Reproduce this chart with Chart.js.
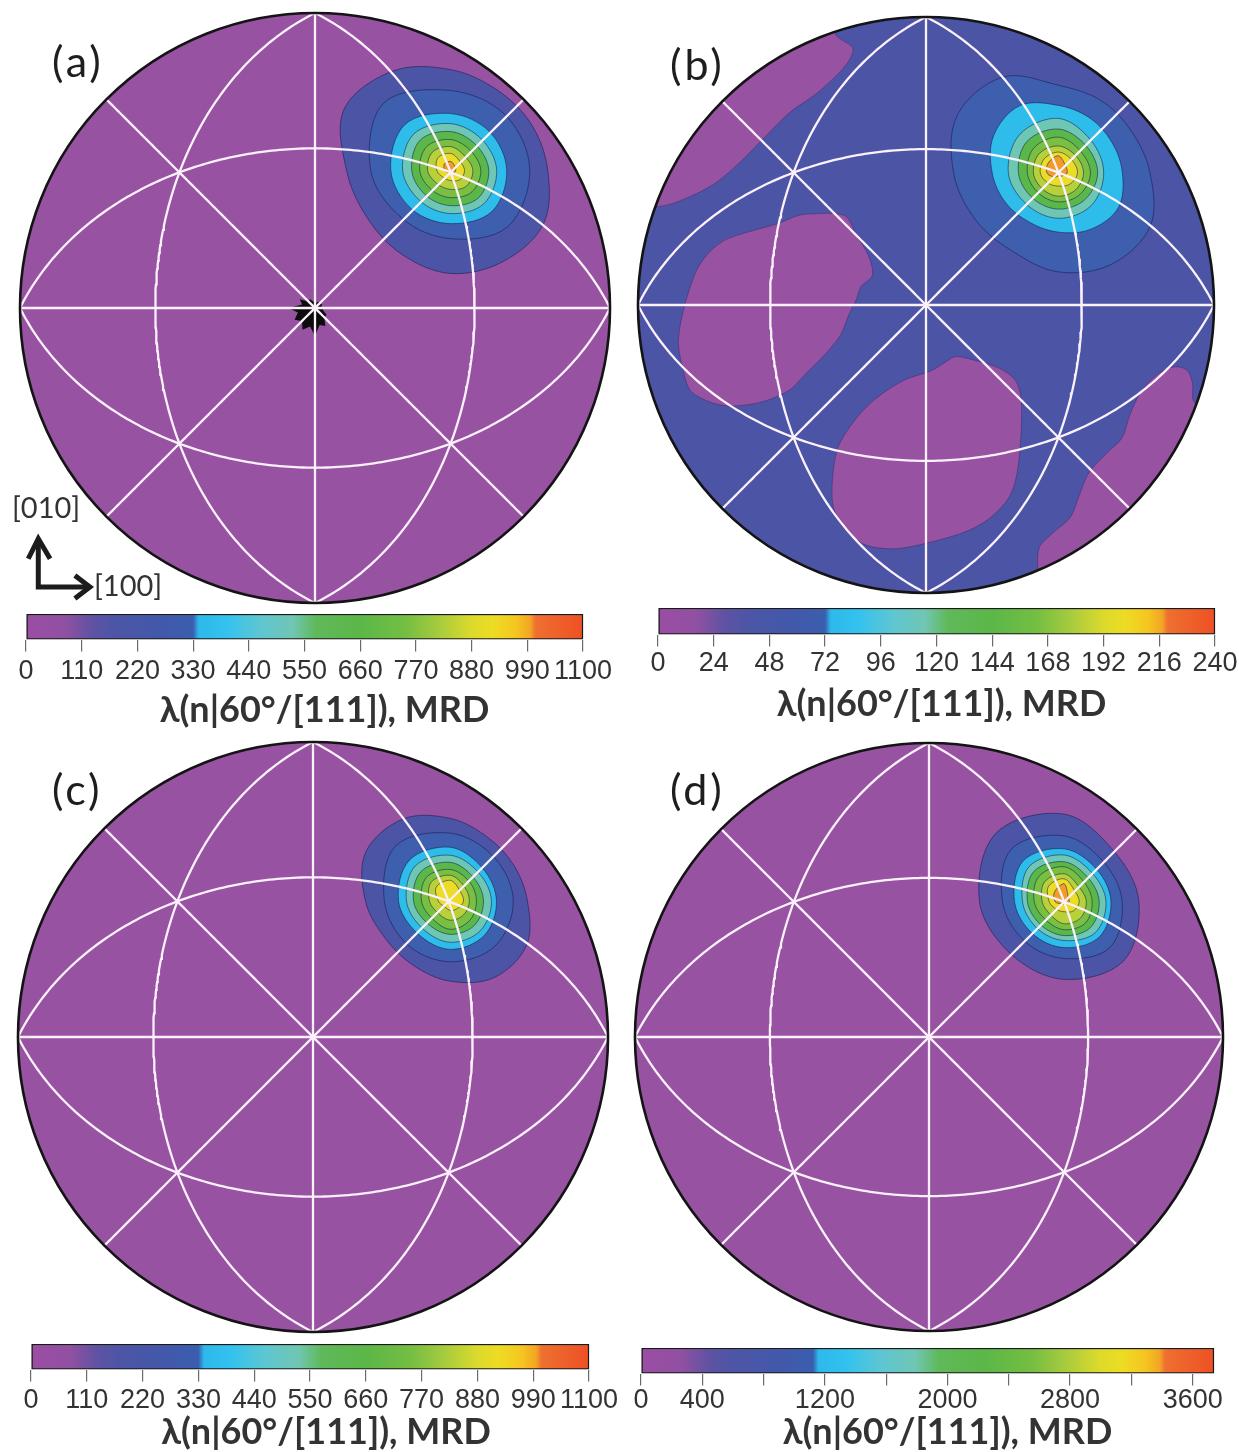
<!DOCTYPE html>
<html>
<head>
<meta charset="utf-8">
<title>λ(n|60°/[111]) distributions</title>
<script src="https://cdn.jsdelivr.net/npm/chart.js@4.4.1/dist/chart.umd.min.js"></script>
<style>
 html,body{margin:0;padding:0;background:#ffffff;}
 body{position:relative;width:1239px;height:1452px;overflow:hidden;}
 canvas{position:absolute;display:block;}
 .txt{position:absolute;white-space:nowrap;line-height:1;font-family:Lato,'Open Sans',sans-serif;z-index:5;}
 .panel{font-size:43px;color:#1e1e1e;letter-spacing:3px;}
 .dir{font-size:29px;color:#333;}
</style>
</head>
<body>
<div class="txt panel" style="left:52px;top:39px">(a)</div>
<div class="txt panel" style="left:670px;top:42px">(b)</div>
<div class="txt panel" style="left:52px;top:767px">(c)</div>
<div class="txt panel" style="left:670px;top:767px">(d)</div>
<div class="txt dir" style="left:12px;top:492px">[010]</div>
<div class="txt dir" style="left:94px;top:570px">[100]</div>
<script>
// ===================== DATA =====================
// colour of each contour band (0 = lowest band)
const LEVEL_COLORS = ['#9752a2','#4b54a5','#3e5eae','#2ebdea','#6ec6b4','#5ab84a','#79bf41','#b8d13a','#ecdc27','#f39b2a'];
// colour bar gradient
const COLORBAR_STOPS  = [0, 0.07, 0.12, 0.16, 0.25, 0.30, 0.31, 0.36, 0.42, 0.48, 0.52, 0.60, 0.68, 0.74, 0.80, 0.84, 0.88, 0.905, 0.915, 1];
const COLORBAR_COLORS = ['#9b4ea3','#9150a2','#5e52a3','#4d55a6','#4159ab','#3a5eaf','#2db9ec','#33c2ee','#5ec6d2','#70c6b2','#5fb95a','#5bb748','#74be42','#a6cb3e','#dcda2c','#eddc23','#f5c520','#f2a624','#ee7030','#ee5024'];
const COLORBAR_TITLE = 'λ(n|60°/[111]), MRD';
// zone (great-circle) normals drawn on the projection
const GREAT_CIRCLE_NORMALS = [[1,0,0],[0,1,0],[1,1,0],[1,-1,0],[1,0,1],[-1,0,1],[0,1,1],[0,-1,1]];

// ---- panel (a)
const A_SCALE_MAX = 1100, A_TICK_STEP = 110;
const A_TICK_LABELS = ['0','110','220','330','440','550','660','770','880','990','1100'];
const A_BACKGROUND_BAND = 0;
const A_PEAK = [0.460, 0.466];
const A_CONTOUR_BANDS = [1,2,3,4,5,6,7,8,9];
const A_CONTOUR_RADII = [
  [0.329,0.315,0.315,0.342,0.390,0.417,0.353,0.325,0.329,0.349,0.356,0.363],
  [0.268,0.264,0.271,0.322,0.271,0.231,0.231,0.271],
  [0.190,0.186,0.193,0.220,0.203,0.186,0.180,0.197],
  [0.156,0.149,0.159,0.176,0.163,0.146,0.146,0.159],
  [0.129,0.122,0.132,0.146,0.132,0.119,0.119,0.132],
  [0.102,0.095,0.105,0.115,0.105,0.092,0.092,0.102],
  [0.075,0.068,0.081,0.088,0.078,0.064,0.064,0.075],
  [0.047,0.044,0.058,0.061,0.047,0.034,0.034,0.044],
  [0.017,0.020,0.031,0.031,0.020,0.010,0.010,0.014]
];
const A_CENTER_SPOT_RADII = [0.030,0.022,0.028,0.020,0.024,0.018,0.026,0.022,0.035,0.030,0.060,0.045,0.090,0.060,0.080,0.062,0.085,0.065,0.095,0.060,0.070,0.045,0.045,0.028];
const A_ARROW_SHAFT = [[-0.938,-0.790],[-0.938,-0.946],[-0.775,-0.946]];
const A_ARROW_HEAD_UP = [[-0.972,-0.850],[-0.938,-0.782],[-0.898,-0.850]];
const A_ARROW_HEAD_RIGHT = [[-0.814,-0.907],[-0.763,-0.946],[-0.814,-0.985]];

// ---- panel (b)
const B_SCALE_MAX = 240, B_TICK_STEP = 24;
const B_TICK_LABELS = ['0','24','48','72','96','120','144','168','192','216','240'];
const B_BACKGROUND_BAND = 1;
const B_LOW_BAND = 0;
const B_BLOB_UPPER_LEFT = [[-0.316,0.945],[-0.255,0.894],[-0.261,0.860],[-0.296,0.812],[-0.378,0.736],[-0.475,0.667],[-0.571,0.571],[-0.654,0.488],[-0.736,0.420],[-0.832,0.371],[-0.915,0.344],[-1.2,0.33],[-1.2,1.2],[-0.3,1.2]];
const B_BLOB_LEFT = [[-0.447,0.310],[-0.406,0.316],[-0.282,0.310],[-0.241,0.241],[-0.200,0.172],[-0.186,0.103],[-0.227,0.062],[-0.241,0.021],[-0.268,-0.034],[-0.296,-0.103],[-0.351,-0.172],[-0.420,-0.241],[-0.475,-0.296],[-0.571,-0.337],[-0.681,-0.351],[-0.750,-0.337],[-0.819,-0.296],[-0.846,-0.213],[-0.860,-0.131],[-0.846,-0.034],[-0.819,0.062],[-0.791,0.131],[-0.750,0.186],[-0.695,0.227],[-0.612,0.255],[-0.516,0.282]];
const B_BLOB_BOTTOM = [[0.103,-0.179],[0.172,-0.193],[0.255,-0.220],[0.310,-0.261],[0.330,-0.323],[0.330,-0.447],[0.316,-0.585],[0.289,-0.667],[0.227,-0.736],[0.145,-0.784],[0.034,-0.819],[-0.103,-0.846],[-0.213,-0.832],[-0.289,-0.770],[-0.323,-0.695],[-0.323,-0.585],[-0.303,-0.488],[-0.241,-0.392],[-0.172,-0.323],[-0.076,-0.261],[0.021,-0.227],[0.076,-0.193]];
const B_BLOB_LOWER_RIGHT = [[0.860,-0.215],[0.805,-0.240],[0.750,-0.296],[0.709,-0.378],[0.681,-0.461],[0.626,-0.516],[0.564,-0.585],[0.530,-0.667],[0.502,-0.736],[0.433,-0.798],[0.392,-0.846],[0.390,-0.950],[0.4,-1.2],[1.2,-1.2],[1.2,-0.4],[0.935,-0.340],[0.925,-0.270],[0.905,-0.225]];
const B_PEAK = [0.460, 0.458];
const B_CONTOUR_BANDS = [2,3,4,5,6,7,8,9];
const B_CONTOUR_RADII = [
  [0.318,0.292,0.292,0.305,0.385,0.405,0.364,0.330,0.315,0.343,0.366,0.368],
  [0.222,0.214,0.220,0.235,0.270,0.260,0.230,0.210,0.198,0.205,0.225,0.240],
  [0.157,0.160,0.190,0.190,0.174,0.155,0.157,0.160],
  [0.136,0.135,0.153,0.155,0.139,0.125,0.125,0.130],
  [0.111,0.108,0.125,0.122,0.108,0.098,0.100,0.105],
  [0.087,0.085,0.094,0.095,0.087,0.078,0.080,0.083],
  [0.066,0.065,0.073,0.070,0.063,0.050,0.045,0.055],
  [0.030,0.035,0.060,0.050,0.040,0.020,0.010,0.015]
];

// ---- panel (c)
const C_SCALE_MAX = 1100, C_TICK_STEP = 110;
const C_TICK_LABELS = ['0','110','220','330','440','550','660','770','880','990','1100'];
const C_BACKGROUND_BAND = 0;
const C_PEAK = [0.466, 0.460];
const C_CONTOUR_BANDS = [1,2,3,4,5,6,7,8];
const C_CONTOUR_RADII = [
  [0.261,0.247,0.251,0.281,0.322,0.332,0.288,0.254,0.251,0.271,0.298,0.298],
  [0.213,0.210,0.231,0.264,0.224,0.207,0.205,0.214],
  [0.156,0.156,0.183,0.197,0.176,0.156,0.163,0.163],
  [0.139,0.136,0.156,0.169,0.149,0.132,0.139,0.142],
  [0.112,0.112,0.132,0.142,0.125,0.108,0.112,0.115],
  [0.088,0.092,0.108,0.115,0.098,0.085,0.095,0.092],
  [0.064,0.068,0.088,0.092,0.071,0.058,0.064,0.064],
  [0.044,0.047,0.071,0.068,0.041,0.027,0.031,0.034]
];

// ---- panel (d)
const D_SCALE_MAX = 3600, D_TICK_STEP = 400;
const D_TICK_LABELS = ['0','400','','1200','','2000','','2800','','3600'];
const D_BACKGROUND_BAND = 0;
const D_PEAK = [0.460, 0.460];
const D_CONTOUR_BANDS = [1,2,3,4,5,6,7,8,9];
const D_CONTOUR_RADII = [
  [0.254,0.241,0.298,0.329,0.288,0.254,0.264,0.285],
  [0.197,0.190,0.224,0.254,0.210,0.190,0.193,0.220],
  [0.159,0.156,0.180,0.197,0.169,0.153,0.156,0.169],
  [0.142,0.136,0.159,0.169,0.142,0.129,0.132,0.149],
  [0.119,0.115,0.136,0.146,0.125,0.112,0.115,0.125],
  [0.095,0.095,0.119,0.122,0.102,0.088,0.095,0.102],
  [0.075,0.071,0.095,0.095,0.075,0.064,0.075,0.078],
  [0.051,0.051,0.078,0.075,0.051,0.037,0.034,0.044],
  [0.017,0.020,0.061,0.047,0.031,0.010,0.007,0.010]
];

// ===================== LAYOUT (page pixels) =====================
const PAD = 6;
const PANEL_LAYOUT = {
  a: {cx: 315,   cy: 307.5,  R: 295},
  b: {cx: 926,   cy: 305,    R: 288},
  c: {cx: 313.4, cy: 1036.5, R: 295},
  d: {cx: 929,   cy: 1037,   R: 294}
};
// bar box, centre line of tick labels, centre line of title, title shift to the right
const BAR_LAYOUT = {
  a: {left: 25.7,  right: 583,  top: 614,  bottom: 639,  labelY: 671,  titleY: 709.5,  shift: 20},
  b: {left: 657.5, right: 1214, top: 608,  bottom: 634,  labelY: 663,  titleY: 703.5,  shift: 5},
  c: {left: 30.8,  right: 589,  top: 1344, bottom: 1369, labelY: 1400, titleY: 1431.5, shift: 16},
  d: {left: 640.5, right: 1213, top: 1348, bottom: 1373, labelY: 1400, titleY: 1431.5, shift: 20}
};

// ===================== HELPERS =====================
function pt(p) { return {x: p[0], y: p[1]}; }
function ring(center, radii) {
  const n = radii.length;
  return radii.map((r, i) => ({x: center[0] + r * Math.cos(2 * Math.PI * i / n),
                               y: center[1] + r * Math.sin(2 * Math.PI * i / n)}));
}
// equal-area projection of the upper half of a great circle
function greatCircle(n) {
  const L = Math.hypot(n[0], n[1], n[2]);
  const N = n.map(v => v / L);
  let a = [N[1], -N[0], 0];
  const la = Math.hypot(a[0], a[1]);
  a = a.map(v => v / la);
  let b = [N[1]*a[2] - N[2]*a[1], N[2]*a[0] - N[0]*a[2], N[0]*a[1] - N[1]*a[0]];
  if (b[2] < 0) b = b.map(v => -v);
  const out = [], S = 180;
  for (let i = 0; i <= S; i++) {
    const t = Math.PI * i / S, c = Math.cos(t), s = Math.sin(t);
    const p = [a[0]*c + b[0]*s, a[1]*c + b[1]*s, Math.max(0, a[2]*c + b[2]*s)];
    const k = 1 / Math.sqrt(1 + p[2]);
    out.push({x: p[0] * k, y: p[1] * k});
  }
  return out;
}
function unitRadiusPx(chart) {
  const sx = chart.scales.x;
  return sx.getPixelForValue(1) - sx.getPixelForValue(0);
}

// close smooth contour lines into loops
const loopPlugin = {
  id: 'loopLines',
  afterDatasetUpdate(chart, args) {
    const ds = chart.data.datasets[args.index];
    if (ds.closed && args.meta.dataset) {
      args.meta.dataset._loop = true;
      args.meta.dataset._fullLoop = true;
    }
  }
};
// clip map content to the projection disc
const discClip = {
  id: 'discClip',
  beforeDraw(chart) {
    const ctx = chart.ctx, sx = chart.scales.x, sy = chart.scales.y;
    ctx.save();
    ctx.beginPath();
    ctx.arc(sx.getPixelForValue(0), sy.getPixelForValue(0), unitRadiusPx(chart), 0, Math.PI * 2);
    ctx.clip();
    chart.$discClipped = true;
  },
  beforeDatasetDraw(chart, args) {
    if (chart.$discClipped && chart.data.datasets[args.index].noClip) {
      chart.ctx.restore();
      chart.$discClipped = false;
    }
  },
  afterDatasetsDraw(chart) {
    if (chart.$discClipped) { chart.ctx.restore(); chart.$discClipped = false; }
  }
};

function shapeDS(points, color, order, extra) {
  return Object.assign({
    data: points, showLine: true, fill: 'shape', backgroundColor: color,
    borderColor: 'rgba(22,28,80,0.55)', borderWidth: 1, pointRadius: 0,
    tension: 0.35, spanGaps: true, closed: true, order: order, clip: false
  }, extra || {});
}

function makePanel(key, spec) {
  const lay = PANEL_LAYOUT[key];
  const size = Math.round(2 * lay.R + 2 * PAD);
  const cv = document.createElement('canvas');
  cv.width = size; cv.height = size;
  cv.style.left = (lay.cx - lay.R - PAD) + 'px';
  cv.style.top = (lay.cy - lay.R - PAD) + 'px';
  cv.style.width = size + 'px'; cv.style.height = size + 'px';
  document.body.appendChild(cv);

  const ds = [];
  ds.push({data: [{x: 0, y: 0}], showLine: false, order: 100, clip: false,
           pointRadius: c => unitRadiusPx(c.chart), pointBackgroundColor: LEVEL_COLORS[spec.bg],
           pointBorderWidth: 0, pointHoverRadius: c => unitRadiusPx(c.chart)});
  (spec.blobs || []).forEach(bl => ds.push(shapeDS(bl.map(pt), LEVEL_COLORS[spec.blobBand], 90,
           {tension: 0.3, borderColor: 'rgba(40,30,90,0.35)'})));
  spec.radii.forEach((r, i) => ds.push(shapeDS(ring(spec.peak, r), LEVEL_COLORS[spec.bands[i]], 80 - i)));
  if (spec.spot) ds.push(shapeDS(ring([0, 0], spec.spot), '#0c0c0c', 40, {tension: 0, borderWidth: 0}));
  GREAT_CIRCLE_NORMALS.forEach(n => ds.push({data: greatCircle(n), showLine: true, fill: false,
           borderColor: '#fbf1fb', borderWidth: 2.3, pointRadius: 0, tension: 0, order: 5, clip: false}));
  ds.push({data: [{x: 0, y: 0}], showLine: false, order: 1, noClip: true, clip: false,
           pointRadius: c => unitRadiusPx(c.chart), pointBackgroundColor: 'rgba(0,0,0,0)',
           pointBorderColor: '#141414', pointBorderWidth: 2.6});
  (spec.arrows || []).forEach(ar => ds.push({data: ar.map(pt), showLine: true, fill: false,
           borderColor: '#1c1c1c', borderWidth: 5, borderJoinStyle: 'miter', borderCapStyle: 'butt',
           pointRadius: 0, tension: 0, order: 0, noClip: true, clip: false}));

  new Chart(cv, {
    type: 'line',
    data: {datasets: ds},
    options: {
      responsive: false, animation: false, events: [],
      layout: {padding: PAD},
      plugins: {legend: {display: false}, tooltip: {enabled: false}},
      scales: {
        x: {type: 'linear', min: -1, max: 1, display: false},
        y: {type: 'linear', min: -1, max: 1, display: false}
      }
    },
    plugins: [loopPlugin, discClip]
  });
}

const TICK_FONT = "'Liberation Sans Narrow','Liberation Sans',Arial,sans-serif";
const TITLE_FONT = "Lato,'Open Sans',sans-serif";
function makeColorbar(key, max, step, labels) {
  const lay = BAR_LAYOUT[key];
  const P = 45, padTop = 3;
  const barW = lay.right - lay.left, barH = lay.bottom - lay.top;
  const areaW = barW + 2 * lay.shift;
  const scaleMax = max * areaW / barW;
  const lblSize = 27, lblLH = 1.0, titleSize = 36, titleLH = 1.0, tickLen = 12;
  const tickPad = lay.labelY - lay.bottom - tickLen - lblSize * lblLH / 2;
  const axisH = lay.titleY - lay.bottom + titleSize * titleLH / 2;
  const W = Math.round(areaW + 2 * P);
  const H = Math.round(padTop + barH + axisH);
  const cv = document.createElement('canvas');
  cv.width = W; cv.height = H;
  cv.style.left = (lay.left - P) + 'px';
  cv.style.top = (lay.top - padTop) + 'px';
  cv.style.width = W + 'px'; cv.style.height = H + 'px';
  document.body.appendChild(cv);

  new Chart(cv, {
    type: 'bar',
    data: {
      labels: [''],
      datasets: [{
        data: [[0, max]],
        backgroundColor: c => {
          const a = c.chart.chartArea;
          if (!a) return COLORBAR_COLORS[0];
          const x0 = c.chart.scales.x.getPixelForValue(0), x1 = c.chart.scales.x.getPixelForValue(max);
          const g = c.chart.ctx.createLinearGradient(x0, 0, x1, 0);
          COLORBAR_STOPS.forEach((s, i) => g.addColorStop(s, COLORBAR_COLORS[i]));
          return g;
        },
        borderColor: '#1a1a1a', borderWidth: 1.5, borderSkipped: false,
        barPercentage: 1, categoryPercentage: 1
      }]
    },
    options: {
      indexAxis: 'y', responsive: false, animation: false, events: [],
      layout: {padding: {left: P, right: P, top: padTop, bottom: 0}},
      plugins: {legend: {display: false}, tooltip: {enabled: false}},
      scales: {
        x: {
          type: 'linear', min: 0, max: scaleMax, position: 'bottom',
          border: {display: false},
          grid: {drawOnChartArea: false, drawTicks: true, tickLength: tickLen, color: '#6a6a6a', lineWidth: 1.2},
          ticks: {stepSize: step, includeBounds: false, autoSkip: false, maxRotation: 0, minRotation: 0,
                  padding: tickPad, color: '#333',
                  font: {family: TICK_FONT, size: lblSize, lineHeight: lblLH},
                  callback: (v, i) => labels[i]},
          title: {display: true, text: COLORBAR_TITLE, color: '#333',
                  font: {family: TITLE_FONT, size: titleSize, weight: 'bold', lineHeight: titleLH},
                  padding: {top: 0, bottom: 0}},
          afterFit: s => { s.height = axisH; }
        },
        y: {display: false}
      }
    }
  });
}

// ===================== BUILD =====================
makePanel('a', {bg: A_BACKGROUND_BAND, peak: A_PEAK, bands: A_CONTOUR_BANDS, radii: A_CONTOUR_RADII,
                spot: A_CENTER_SPOT_RADII, arrows: [A_ARROW_SHAFT, A_ARROW_HEAD_UP, A_ARROW_HEAD_RIGHT]});
makePanel('b', {bg: B_BACKGROUND_BAND, blobBand: B_LOW_BAND,
                blobs: [B_BLOB_UPPER_LEFT, B_BLOB_LEFT, B_BLOB_BOTTOM, B_BLOB_LOWER_RIGHT],
                peak: B_PEAK, bands: B_CONTOUR_BANDS, radii: B_CONTOUR_RADII});
makePanel('c', {bg: C_BACKGROUND_BAND, peak: C_PEAK, bands: C_CONTOUR_BANDS, radii: C_CONTOUR_RADII});
makePanel('d', {bg: D_BACKGROUND_BAND, peak: D_PEAK, bands: D_CONTOUR_BANDS, radii: D_CONTOUR_RADII});

makeColorbar('a', A_SCALE_MAX, A_TICK_STEP, A_TICK_LABELS);
makeColorbar('b', B_SCALE_MAX, B_TICK_STEP, B_TICK_LABELS);
makeColorbar('c', C_SCALE_MAX, C_TICK_STEP, C_TICK_LABELS);
makeColorbar('d', D_SCALE_MAX, D_TICK_STEP, D_TICK_LABELS);
</script>
</body>
</html>
